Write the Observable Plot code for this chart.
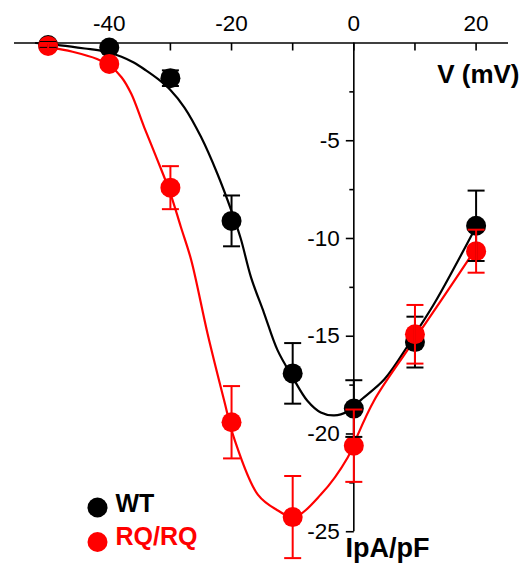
<!DOCTYPE html>
<html><head><meta charset="utf-8">
<script src="https://cdn.jsdelivr.net/npm/d3@7"></script>
<script src="https://cdn.jsdelivr.net/npm/@observablehq/plot@0.6"></script>
<style>body{margin:0;background:#fff} #chart{width:522px;height:565px}</style>
</head><body><div id="chart"></div>
<script>
// Measured data (mV, pA/pF)
const voltages = [-50, -40, -30, -20, -10, 0, 10, 20];
const wtMean = [-0.1, -0.23, -1.8, -9.1, -16.9, -18.7, -15.3, -9.35];
const wtErr  = [0.15, 0.12, 0.4, 1.3, 1.55, 1.45, 1.3, 1.8];
const rqMean = [-0.15, -1.07, -7.4, -19.4, -24.25, -20.6, -14.9, -10.65];
const rqErr  = [0.15, 0.12, 1.1, 1.85, 2.1, 1.85, 1.5, 1.1];

// Fitted curves
const wtFitV = [-52, -48, -44, -41, -38, -36, -34, -32, -30, -27.7, -25, -22.3, -20, -18.5, -16.8, -14.7, -12.5, -10, -7.6, -5.4, -3.2, -1, 0, 1, 5, 8.8, 10, 13.4, 20];
const wtFitI = [0, -0.12, -0.28, -0.42, -0.7, -1.0, -1.4, -1.85, -2.4, -3.3, -4.8, -6.7, -8.6, -10.0, -12.0, -13.8, -15.7, -17.1, -18.3, -18.9, -19.05, -18.85, -18.6, -18.3, -17.2, -15.5, -14.9, -13.2, -9.4];
const rqFitV = [-50, -46, -42, -40, -38, -36.4, -34.3, -32.1, -30, -28.3, -26.6, -23.9, -21.2, -19.6, -15.7, -12.5, -9.8, -5.4, -1, 0, 3.3, 8.8, 14.2, 20];
const rqFitI = [-0.2, -0.45, -0.82, -1.15, -1.75, -2.6, -4.3, -6.0, -7.7, -9.4, -11.1, -14.9, -18.3, -20.2, -23.1, -23.9, -24.25, -23.1, -21.2, -20.5, -18.3, -15.7, -13.2, -10.5];

// Axis ticks and labels
const xTickValues = [-50, -40, -30, -20, -10, 0, 10, 20];
const xLabelValues = [-40, -20, 0, 20];
const xLabels = ["-40", "-20", "0", "20"];
const yMajorTicks = [-5, -10, -15, -20, -25];
const yLabels = ["-5", "-10", "-15", "-20", "-25"];
const yMinorTicks = [-2.5, -7.5, -12.5, -17.5, -22.5];

const legendLabels = ["WT", "RQ/RQ"];
const legendColors = ["#000000", "#ff0000"];

const xAxisTitle = "V (mV)";
const yAxisTitle = "IpA/pF";

const FONT = "'Liberation Sans', Arial, Helvetica, sans-serif";

const wt = voltages.map((v, i) => ({v, m: wtMean[i], e: wtErr[i]}));
const rq = voltages.map((v, i) => ({v, m: rqMean[i], e: rqErr[i]}));
const wtFit = wtFitV.map((v, i) => ({v, i: wtFitI[i]}));
const rqFit = rqFitV.map((v, i) => ({v, i: rqFitI[i]}));

const capSymbol = {draw(ctx, size) { const w = Math.sqrt(size / Math.PI); ctx.moveTo(-w, 0); ctx.lineTo(w, 0); }};
const downTick = {draw(ctx, size) { const l = Math.sqrt(size / Math.PI); ctx.moveTo(0, 0); ctx.lineTo(0, l); }};
const leftTick = {draw(ctx, size) { const l = Math.sqrt(size / Math.PI); ctx.moveTo(-l, 0); ctx.lineTo(0, 0); }};

function errMarks(data, color) {
  return [
    Plot.ruleX(data, {x: "v", y1: d => d.m - d.e, y2: d => d.m + d.e, stroke: color, strokeWidth: 2}),
    Plot.dot(data, {x: "v", y: d => d.m + d.e, symbol: capSymbol, r: 8.5, fill: "none", stroke: color, strokeWidth: 2}),
    Plot.dot(data, {x: "v", y: d => d.m - d.e, symbol: capSymbol, r: 8.5, fill: "none", stroke: color, strokeWidth: 2})
  ];
}

const legendMarks = legendLabels.flatMap((lab, k) => [
  Plot.dot([lab], {frameAnchor: "bottom-left", dx: 83, dy: -55.5 + k * 34.5, r: 10, fill: legendColors[k], stroke: "none"}),
  Plot.text([lab], {frameAnchor: "bottom-left", dx: 101, dy: -51.5 + k * 33, text: d => d, textAnchor: "start", fill: legendColors[k], fontSize: 25, fontWeight: "bold", fontFamily: FONT})
]);

const chart = Plot.plot({
  width: 522,
  height: 565,
  marginLeft: 14,
  marginRight: 14,
  marginTop: 42.5,
  marginBottom: 2.5,
  style: {fontFamily: FONT, background: "#fff", overflow: "visible"},
  x: {domain: [-55.5, 25.3], axis: null},
  y: {domain: [-26.6, 0], axis: null},
  marks: [
    // axes
    Plot.ruleY([0], {stroke: "#000", strokeWidth: 1.6}),
    Plot.ruleX([0], {y1: 0, y2: -25, stroke: "#000", strokeWidth: 1.6}),
    Plot.dot(xTickValues, {x: d => d, y: 0, symbol: downTick, r: 7.5, fill: "none", stroke: "#000", strokeWidth: 1.6}),
    Plot.dot(yMajorTicks, {x: 0, y: d => d, symbol: leftTick, r: 8, fill: "none", stroke: "#000", strokeWidth: 1.6}),
    Plot.dot(yMinorTicks, {x: 0, y: d => d, symbol: leftTick, r: 4.5, fill: "none", stroke: "#000", strokeWidth: 1.6}),
    Plot.text(xLabelValues, {x: d => d, y: 0, dy: -19, text: (d, i) => xLabels[i], fontSize: 22.5, fill: "#000", lineAnchor: "middle"}),
    Plot.text(yMajorTicks, {x: 0, y: d => d, dx: -14, text: (d, i) => yLabels[i], textAnchor: "end", fontSize: 22.5, fill: "#000"}),
    Plot.text([xAxisTitle], {frameAnchor: "top-right", dx: 11, dy: 31.5, text: d => d, textAnchor: "end", lineAnchor: "middle", fontSize: 26, fontWeight: "bold", fill: "#000"}),
    Plot.text([yAxisTitle], {frameAnchor: "bottom-left", dx: 331, dy: -14.5, text: d => d, textAnchor: "start", lineAnchor: "middle", fontSize: 27, fontWeight: "bold", fill: "#000"}),
    // fitted curves
    Plot.line(wtFit, {x: "v", y: "i", stroke: "#000", strokeWidth: 2.2, curve: "catmull-rom"}),
    Plot.line(rqFit, {x: "v", y: "i", stroke: "#ff0000", strokeWidth: 2.2, curve: "catmull-rom"}),
    // points
    Plot.dot(wt, {x: "v", y: "m", r: 10, fill: "#000", stroke: "none"}),
    Plot.dot(rq, {x: "v", y: "m", r: 10, fill: "#ff0000", stroke: "none"}),
    ...errMarks(wt, "#000"),
    ...errMarks(rq, "#ff0000"),
    ...legendMarks
  ]
});
document.getElementById("chart").appendChild(chart);
</script>
</body></html>
